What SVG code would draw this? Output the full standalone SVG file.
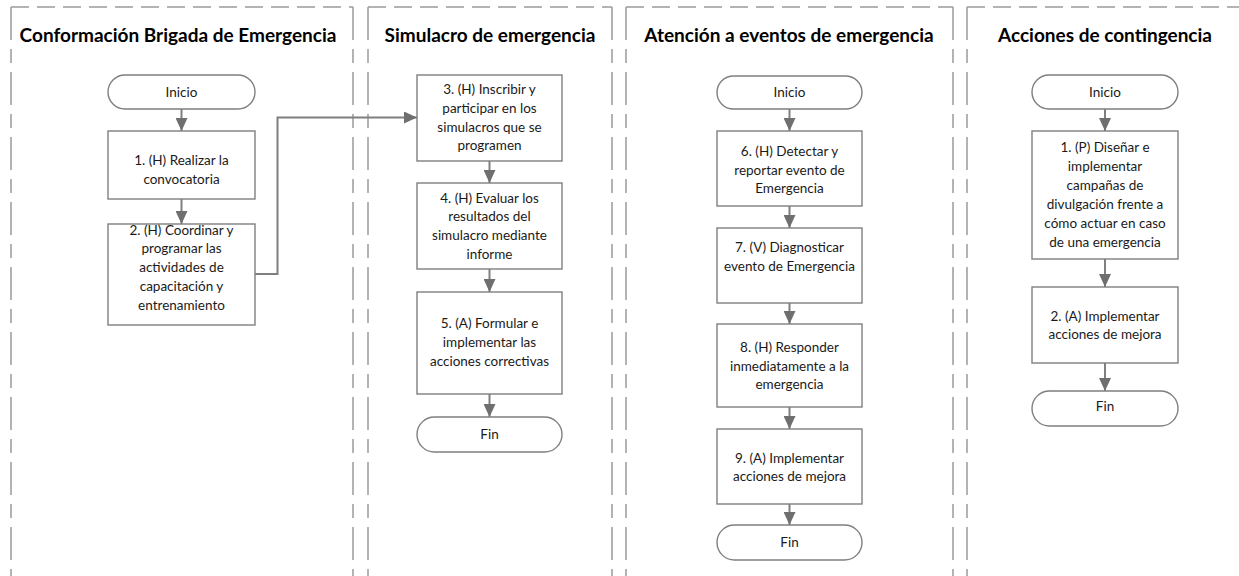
<svg xmlns="http://www.w3.org/2000/svg" width="1239" height="576" viewBox="0 0 1239 576">
  <style>
    .lane-h { stroke: #9a9a9a; stroke-width: 1.5; stroke-dasharray: 18 8; fill: none; }
    .lane-v { stroke: #9a9a9a; stroke-width: 1.5; stroke-dasharray: 33 9 14 9; fill: none; }
    .title { font-family: Lato, "Liberation Sans", sans-serif; font-weight: bold; font-size: 19px; fill: #000; text-anchor: middle; }
    .box { fill: #ffffff; stroke: #7f7f7f; stroke-width: 1.4; }
    .lbl { font-family: Lato, "Liberation Sans", sans-serif; font-size: 13.5px; fill: #1a1a1a; text-anchor: middle; }
    .conn { stroke: #7f7f7f; stroke-width: 2; fill: none; marker-end: url(#arrow); }
  </style>
  <defs>
    <marker id="arrow" markerUnits="userSpaceOnUse" markerWidth="13" markerHeight="12" refX="13" refY="6" orient="auto">
      <path d="M0,0 L13,6 L0,12 Z" fill="#6f6f6f"/>
    </marker>
  </defs>
  <rect width="1239" height="576" fill="#ffffff"/>

  <g id="lanes">
    <line class="lane-h" x1="11" y1="7" x2="353" y2="7"/>
    <line class="lane-v" x1="11" y1="7" x2="11" y2="576"/>
    <line class="lane-v" x1="353" y1="7" x2="353" y2="576"/>
    <line class="lane-h" x1="368" y1="7" x2="612" y2="7"/>
    <line class="lane-v" x1="368" y1="7" x2="368" y2="576"/>
    <line class="lane-v" x1="612" y1="7" x2="612" y2="576"/>
    <line class="lane-h" x1="626" y1="7" x2="953" y2="7"/>
    <line class="lane-v" x1="626" y1="7" x2="626" y2="576"/>
    <line class="lane-v" x1="953" y1="7" x2="953" y2="576"/>
    <line class="lane-h" x1="967" y1="7" x2="1239" y2="7"/>
    <line class="lane-v" x1="967" y1="7" x2="967" y2="576"/>
    <text class="title" x="178" y="42">Conformación Brigada de Emergencia</text>
    <text class="title" x="490" y="42">Simulacro de emergencia</text>
    <text class="title" x="789" y="42">Atención a eventos de emergencia</text>
    <text class="title" x="1105" y="42">Acciones de contingencia</text>
  </g>

  <g id="connectors">
    <line class="conn" x1="181.5" y1="109" x2="181.5" y2="131"/>
    <line class="conn" x1="181.5" y1="199" x2="181.5" y2="224"/>
    <path class="conn" d="M255,274 H277.5 V117.5 H417"/>
    <line class="conn" x1="489.5" y1="161" x2="489.5" y2="183"/>
    <line class="conn" x1="489.5" y1="269" x2="489.5" y2="292"/>
    <line class="conn" x1="489.5" y1="394" x2="489.5" y2="417"/>
    <line class="conn" x1="789.5" y1="109" x2="789.5" y2="131"/>
    <line class="conn" x1="789.5" y1="206" x2="789.5" y2="228"/>
    <line class="conn" x1="789.5" y1="303" x2="789.5" y2="324"/>
    <line class="conn" x1="789.5" y1="407" x2="789.5" y2="429"/>
    <line class="conn" x1="789.5" y1="504" x2="789.5" y2="525"/>
    <line class="conn" x1="1105" y1="109" x2="1105" y2="131"/>
    <line class="conn" x1="1105" y1="259" x2="1105" y2="287"/>
    <line class="conn" x1="1105" y1="363" x2="1105" y2="391"/>
  </g>

  <g id="n1-inicio">
    <rect class="box" x="108" y="75" width="147" height="34" rx="17"/>
    <text class="lbl" x="181.5" y="97">Inicio</text>
  </g>
  <g id="n1-1">
    <rect class="box" x="108" y="131" width="147" height="68"/>
    <text class="lbl" x="181.5" y="164.5">1. (H) Realizar la</text>
    <text class="lbl" x="181.5" y="183.5">convocatoria</text>
  </g>
  <g id="n1-2">
    <rect class="box" x="108" y="224" width="147" height="101"/>
    <text class="lbl" x="181.5" y="234.5">2. (H) Coordinar y</text>
    <text class="lbl" x="181.5" y="253">programar las</text>
    <text class="lbl" x="181.5" y="271.5">actividades de</text>
    <text class="lbl" x="181.5" y="290.5">capacitación y</text>
    <text class="lbl" x="181.5" y="309.5">entrenamiento</text>
  </g>

  <g id="n2-3">
    <rect class="box" x="417" y="75" width="145" height="86"/>
    <text class="lbl" x="489.5" y="94">3. (H) Inscribir y</text>
    <text class="lbl" x="489.5" y="112.8">participar en los</text>
    <text class="lbl" x="489.5" y="131.6">simulacros que se</text>
    <text class="lbl" x="489.5" y="150.4">programen</text>
  </g>
  <g id="n2-4">
    <rect class="box" x="417" y="183" width="145" height="86"/>
    <text class="lbl" x="489.5" y="202.5">4. (H) Evaluar los</text>
    <text class="lbl" x="489.5" y="221">resultados del</text>
    <text class="lbl" x="489.5" y="240">simulacro mediante</text>
    <text class="lbl" x="489.5" y="259">informe</text>
  </g>
  <g id="n2-5">
    <rect class="box" x="417" y="292" width="145" height="102"/>
    <text class="lbl" x="489.5" y="327.5">5. (A) Formular e</text>
    <text class="lbl" x="489.5" y="346.8">implementar las</text>
    <text class="lbl" x="489.5" y="366">acciones correctivas</text>
  </g>
  <g id="n2-fin">
    <rect class="box" x="417" y="417" width="145" height="35" rx="17.5"/>
    <text class="lbl" x="489.5" y="439">Fin</text>
  </g>

  <g id="n3-inicio">
    <rect class="box" x="717" y="76" width="145" height="33" rx="16.5"/>
    <text class="lbl" x="789.5" y="97">Inicio</text>
  </g>
  <g id="n3-6">
    <rect class="box" x="717" y="131" width="145" height="75"/>
    <text class="lbl" x="789.5" y="156">6. (H) Detectar y</text>
    <text class="lbl" x="789.5" y="174.5">reportar evento de</text>
    <text class="lbl" x="789.5" y="193">Emergencia</text>
  </g>
  <g id="n3-7">
    <rect class="box" x="717" y="228" width="145" height="75"/>
    <text class="lbl" x="789.5" y="252">7. (V) Diagnosticar</text>
    <text class="lbl" x="789.5" y="271">evento de Emergencia</text>
  </g>
  <g id="n3-8">
    <rect class="box" x="717" y="324" width="145" height="83"/>
    <text class="lbl" x="789.5" y="351.7">8. (H) Responder</text>
    <text class="lbl" x="789.5" y="370.5">inmediatamente a la</text>
    <text class="lbl" x="789.5" y="389">emergencia</text>
  </g>
  <g id="n3-9">
    <rect class="box" x="717" y="429" width="145" height="75"/>
    <text class="lbl" x="789.5" y="462.7">9. (A) Implementar</text>
    <text class="lbl" x="789.5" y="481">acciones de mejora</text>
  </g>
  <g id="n3-fin">
    <rect class="box" x="717" y="525" width="145" height="35" rx="17.5"/>
    <text class="lbl" x="789.5" y="546.7">Fin</text>
  </g>

  <g id="n4-inicio">
    <rect class="box" x="1032" y="75" width="146" height="34" rx="17"/>
    <text class="lbl" x="1105" y="97">Inicio</text>
  </g>
  <g id="n4-1">
    <rect class="box" x="1032" y="131" width="146" height="128"/>
    <text class="lbl" x="1105" y="152.3">1. (P) Diseñar e</text>
    <text class="lbl" x="1105" y="171">implementar</text>
    <text class="lbl" x="1105" y="190">campañas de</text>
    <text class="lbl" x="1105" y="209">divulgación frente a</text>
    <text class="lbl" x="1105" y="228">cómo actuar en caso</text>
    <text class="lbl" x="1105" y="247.3">de una emergencia</text>
  </g>
  <g id="n4-2">
    <rect class="box" x="1032" y="287" width="146" height="76"/>
    <text class="lbl" x="1105" y="320.7">2. (A) Implementar</text>
    <text class="lbl" x="1105" y="339">acciones de mejora</text>
  </g>
  <g id="n4-fin">
    <rect class="box" x="1032" y="391" width="146" height="35" rx="17.5"/>
    <text class="lbl" x="1105" y="410.7">Fin</text>
  </g>
</svg>
